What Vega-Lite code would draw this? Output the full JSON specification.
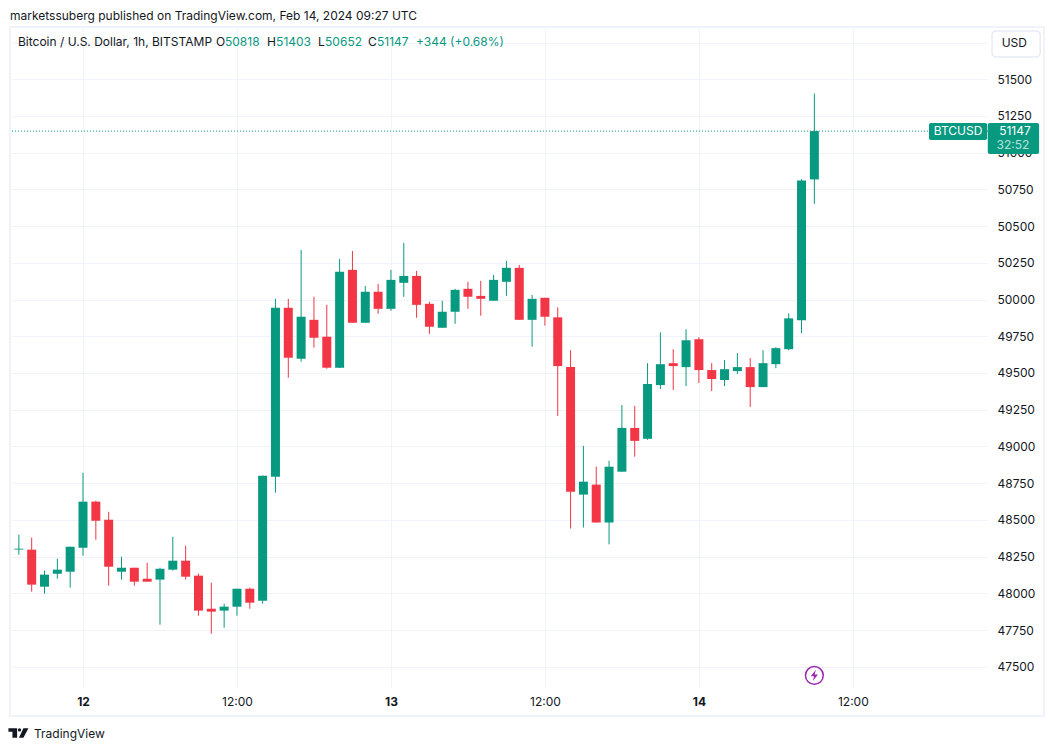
{
  "$schema": "https://vega.github.io/schema/vega-lite/v6.json",
  "width": 977,
  "height": 659,
  "autosize": "none",
  "padding": {"left": 11, "top": 28, "right": 66, "bottom": 64},
  "background": "#ffffff",
  "config": {
    "font": "Inter",
    "view": {"stroke": null},
    "axis": {"title": null, "domain": false, "ticks": false, "grid": true, "gridColor": "#f0f3fa", "gridWidth": 1, "labelColor": "#131722", "labelFontSize": 12, "labelOverlap": false}
  },
  "resolve": {"axis": {"x": "independent", "y": "independent"}},
  "datasets": {
    "candles": [
      {"time": "2024-02-11T19:00:00Z", "open": 48298, "high": 48399, "low": 48263, "close": 48304},
      {"time": "2024-02-11T20:00:00Z", "open": 48297, "high": 48379, "low": 48011, "close": 48059},
      {"time": "2024-02-11T21:00:00Z", "open": 48045, "high": 48154, "low": 47997, "close": 48127},
      {"time": "2024-02-11T22:00:00Z", "open": 48133, "high": 48236, "low": 48099, "close": 48161},
      {"time": "2024-02-11T23:00:00Z", "open": 48147, "high": 48317, "low": 48038, "close": 48317},
      {"time": "2024-02-12T00:00:00Z", "open": 48310, "high": 48821, "low": 48256, "close": 48624},
      {"time": "2024-02-12T01:00:00Z", "open": 48624, "high": 48630, "low": 48365, "close": 48494},
      {"time": "2024-02-12T02:00:00Z", "open": 48501, "high": 48555, "low": 48052, "close": 48181},
      {"time": "2024-02-12T03:00:00Z", "open": 48147, "high": 48249, "low": 48093, "close": 48174},
      {"time": "2024-02-12T04:00:00Z", "open": 48174, "high": 48174, "low": 48052, "close": 48079},
      {"time": "2024-02-12T05:00:00Z", "open": 48099, "high": 48208, "low": 48079, "close": 48079},
      {"time": "2024-02-12T06:00:00Z", "open": 48093, "high": 48174, "low": 47786, "close": 48167},
      {"time": "2024-02-12T07:00:00Z", "open": 48161, "high": 48385, "low": 48154, "close": 48222},
      {"time": "2024-02-12T08:00:00Z", "open": 48222, "high": 48324, "low": 48093, "close": 48113},
      {"time": "2024-02-12T09:00:00Z", "open": 48120, "high": 48133, "low": 47848, "close": 47882},
      {"time": "2024-02-12T10:00:00Z", "open": 47895, "high": 48072, "low": 47725, "close": 47875},
      {"time": "2024-02-12T11:00:00Z", "open": 47882, "high": 47929, "low": 47766, "close": 47909},
      {"time": "2024-02-12T12:00:00Z", "open": 47909, "high": 48031, "low": 47848, "close": 48031},
      {"time": "2024-02-12T13:00:00Z", "open": 48031, "high": 48038, "low": 47895, "close": 47936},
      {"time": "2024-02-12T14:00:00Z", "open": 47950, "high": 48801, "low": 47929, "close": 48801},
      {"time": "2024-02-12T15:00:00Z", "open": 48794, "high": 50005, "low": 48685, "close": 49944},
      {"time": "2024-02-12T16:00:00Z", "open": 49944, "high": 50005, "low": 49468, "close": 49604},
      {"time": "2024-02-12T17:00:00Z", "open": 49597, "high": 50338, "low": 49577, "close": 49883},
      {"time": "2024-02-12T18:00:00Z", "open": 49862, "high": 50019, "low": 49672, "close": 49740},
      {"time": "2024-02-12T19:00:00Z", "open": 49747, "high": 49964, "low": 49529, "close": 49536},
      {"time": "2024-02-12T20:00:00Z", "open": 49536, "high": 50277, "low": 49534, "close": 50189},
      {"time": "2024-02-12T21:00:00Z", "open": 50202, "high": 50331, "low": 49842, "close": 49842},
      {"time": "2024-02-12T22:00:00Z", "open": 49842, "high": 50093, "low": 49842, "close": 50053},
      {"time": "2024-02-12T23:00:00Z", "open": 50053, "high": 50107, "low": 49903, "close": 49937},
      {"time": "2024-02-13T00:00:00Z", "open": 49937, "high": 50202, "low": 49924, "close": 50134},
      {"time": "2024-02-13T01:00:00Z", "open": 50114, "high": 50386, "low": 50019, "close": 50161},
      {"time": "2024-02-13T02:00:00Z", "open": 50161, "high": 50195, "low": 49876, "close": 49964},
      {"time": "2024-02-13T03:00:00Z", "open": 49971, "high": 49985, "low": 49767, "close": 49815},
      {"time": "2024-02-13T04:00:00Z", "open": 49808, "high": 49992, "low": 49808, "close": 49917},
      {"time": "2024-02-13T05:00:00Z", "open": 49917, "high": 50073, "low": 49835, "close": 50066},
      {"time": "2024-02-13T06:00:00Z", "open": 50073, "high": 50121, "low": 49937, "close": 50019},
      {"time": "2024-02-13T07:00:00Z", "open": 50025, "high": 50127, "low": 49890, "close": 50005},
      {"time": "2024-02-13T08:00:00Z", "open": 49992, "high": 50168, "low": 49992, "close": 50134},
      {"time": "2024-02-13T09:00:00Z", "open": 50121, "high": 50263, "low": 50025, "close": 50216},
      {"time": "2024-02-13T10:00:00Z", "open": 50216, "high": 50236, "low": 49862, "close": 49862},
      {"time": "2024-02-13T11:00:00Z", "open": 49862, "high": 50032, "low": 49679, "close": 50005},
      {"time": "2024-02-13T12:00:00Z", "open": 50012, "high": 50012, "low": 49822, "close": 49883},
      {"time": "2024-02-13T13:00:00Z", "open": 49879, "high": 49947, "low": 49208, "close": 49547},
      {"time": "2024-02-13T14:00:00Z", "open": 49540, "high": 49655, "low": 48441, "close": 48692},
      {"time": "2024-02-13T15:00:00Z", "open": 48672, "high": 49004, "low": 48448, "close": 48760},
      {"time": "2024-02-13T16:00:00Z", "open": 48740, "high": 48862, "low": 48482, "close": 48482},
      {"time": "2024-02-13T17:00:00Z", "open": 48482, "high": 48902, "low": 48333, "close": 48862},
      {"time": "2024-02-13T18:00:00Z", "open": 48828, "high": 49282, "low": 48828, "close": 49126},
      {"time": "2024-02-13T19:00:00Z", "open": 49126, "high": 49276, "low": 48930, "close": 49038},
      {"time": "2024-02-13T20:00:00Z", "open": 49052, "high": 49567, "low": 49045, "close": 49425},
      {"time": "2024-02-13T21:00:00Z", "open": 49418, "high": 49777, "low": 49391, "close": 49560},
      {"time": "2024-02-13T22:00:00Z", "open": 49567, "high": 49662, "low": 49384, "close": 49547},
      {"time": "2024-02-13T23:00:00Z", "open": 49540, "high": 49798, "low": 49411, "close": 49723},
      {"time": "2024-02-14T00:00:00Z", "open": 49730, "high": 49744, "low": 49432, "close": 49520},
      {"time": "2024-02-14T01:00:00Z", "open": 49520, "high": 49567, "low": 49377, "close": 49459},
      {"time": "2024-02-14T02:00:00Z", "open": 49452, "high": 49588, "low": 49411, "close": 49526},
      {"time": "2024-02-14T03:00:00Z", "open": 49513, "high": 49635, "low": 49493, "close": 49540},
      {"time": "2024-02-14T04:00:00Z", "open": 49540, "high": 49601, "low": 49269, "close": 49404},
      {"time": "2024-02-14T05:00:00Z", "open": 49404, "high": 49655, "low": 49404, "close": 49567},
      {"time": "2024-02-14T06:00:00Z", "open": 49560, "high": 49676, "low": 49533, "close": 49669},
      {"time": "2024-02-14T07:00:00Z", "open": 49662, "high": 49906, "low": 49655, "close": 49872},
      {"time": "2024-02-14T08:00:00Z", "open": 49859, "high": 50820, "low": 49771, "close": 50810},
      {"time": "2024-02-14T09:00:00Z", "open": 50818, "high": 51403, "low": 50652, "close": 51147}
    ],
    "darkNotes": [
      {"time": "2024-02-11T18:18:36Z", "price": 51934, "label": "marketssuberg published on TradingView.com, Feb 14, 2024 09:27 UTC"},
      {"time": "2024-02-11T18:56:00Z", "price": 51751, "label": "Bitcoin / U.S. Dollar, 1h, BITSTAMP"},
      {"time": "2024-02-12T10:22:00Z", "price": 51751, "label": "O"},
      {"time": "2024-02-12T14:20:00Z", "price": 51751, "label": "H"},
      {"time": "2024-02-12T18:19:00Z", "price": 51751, "label": "L"},
      {"time": "2024-02-12T22:13:00Z", "price": 51751, "label": "C"},
      {"time": "2024-02-14T23:36:00Z", "price": 51745, "label": "USD"},
      {"time": "2024-02-11T20:11:00Z", "price": 47042, "label": "TradingView"}
    ],
    "greenNotes": [
      {"time": "2024-02-12T11:04:00Z", "price": 51751, "label": "50818"},
      {"time": "2024-02-12T15:03:00Z", "price": 51751, "label": "51403"},
      {"time": "2024-02-12T18:52:00Z", "price": 51751, "label": "50652"},
      {"time": "2024-02-12T22:55:00Z", "price": 51751, "label": "51147"},
      {"time": "2024-02-13T01:57:00Z", "price": 51751, "label": "+344 (+0.68%)"}
    ],
    "tagBoxes": [
      {"from": "2024-02-14T17:56:00Z", "to": "2024-02-14T22:28:00Z", "top": 51202, "bottom": 51087},
      {"from": "2024-02-14T22:31:00Z", "to": "2024-02-15T02:31:00Z", "top": 51202, "bottom": 50991}
    ],
    "tagNotes": [
      {"time": "2024-02-14T20:12:00Z", "price": 51148, "label": "BTCUSD"},
      {"time": "2024-02-15T00:38:00Z", "price": 51148, "label": "51147"},
      {"time": "2024-02-15T00:29:00Z", "price": 51053, "label": "32:52"}
    ]
  },
  "layer": [
    {
      "data": {"name": "candles"},
      "mark": {"type": "rule", "strokeWidth": 1},
      "encoding": {
        "x": {
          "field": "time",
          "type": "temporal",
          "scale": {"type": "utc", "domain": ["2024-02-11T18:23:17Z", "2024-02-14T22:32:00Z"], "nice": false, "padding": 0},
          "axis": {
            "values": ["2024-02-12T00:00:00Z", "2024-02-12T12:00:00Z", "2024-02-13T00:00:00Z", "2024-02-13T12:00:00Z", "2024-02-14T00:00:00Z", "2024-02-14T12:00:00Z"],
            "labelExpr": "utchours(datum.value) === 0 ? utcFormat(datum.value, '%-d') : '12:00'",
            "labelFontWeight": {"condition": {"test": "utchours(datum.value) === 0", "value": "bold"}, "value": "normal"},
            "labelPadding": 9
          }
        },
        "y": {
          "field": "low",
          "type": "quantitative",
          "scale": {"domain": [47362, 51849], "nice": false, "zero": false},
          "axis": {
            "orient": "right",
            "values": [47500, 47750, 48000, 48250, 48500, 48750, 49000, 49250, 49500, 49750, 50000, 50250, 50500, 50750, 51000, 51250, 51500, 51750],
            "labelExpr": "datum.value === 51750 ? '' : format(datum.value, 'd')",
            "labelPadding": 9
          }
        },
        "y2": {"field": "high"},
        "color": {"condition": {"test": "datum.close >= datum.open", "value": "#089981"}, "value": "#f23645"}
      }
    },
    {
      "data": {"name": "candles"},
      "mark": {"type": "bar", "size": 9},
      "encoding": {
        "x": {"field": "time", "type": "temporal", "axis": null},
        "y": {"field": "open", "type": "quantitative", "axis": null},
        "y2": {"field": "close"},
        "color": {"condition": {"test": "datum.close >= datum.open", "value": "#089981"}, "value": "#f23645"}
      }
    },
    {
      "data": {"values": [{"price": 51147}]},
      "mark": {"type": "rule", "color": "#089981", "strokeWidth": 1, "strokeDash": [1, 2]},
      "encoding": {"y": {"field": "price", "type": "quantitative", "axis": null}}
    },
    {
      "data": {"values": [{"from": "2024-02-11T18:18:36Z", "to": "2024-02-15T02:54:00Z", "top": 51856, "bottom": 47164}]},
      "mark": {"type": "rect", "fill": null, "stroke": "#f0f3fa", "strokeWidth": 2, "clip": false},
      "encoding": {
        "x": {"field": "from", "type": "temporal", "axis": null},
        "x2": {"field": "to"},
        "y": {"field": "top", "type": "quantitative", "axis": null},
        "y2": {"field": "bottom"}
      }
    },
    {
      "data": {"values": [{"from": "2024-02-14T22:51:00Z", "to": "2024-02-15T02:36:00Z", "top": 51829, "bottom": 51652}]},
      "mark": {"type": "rect", "fill": "#ffffff", "stroke": "#e9ecf5", "strokeWidth": 1.5, "cornerRadius": 4},
      "encoding": {
        "x": {"field": "from", "type": "temporal", "axis": null},
        "x2": {"field": "to"},
        "y": {"field": "top", "type": "quantitative", "axis": null},
        "y2": {"field": "bottom"}
      }
    },
    {
      "data": {"name": "tagBoxes"},
      "mark": {"type": "rect", "fill": "#089981", "cornerRadius": 2},
      "encoding": {
        "x": {"field": "from", "type": "temporal", "axis": null},
        "x2": {"field": "to"},
        "y": {"field": "top", "type": "quantitative", "axis": null},
        "y2": {"field": "bottom"}
      }
    },
    {
      "data": {"name": "tagNotes"},
      "mark": {"type": "text", "fontSize": 12, "align": "center", "baseline": "middle", "fill": "#ffffff"},
      "encoding": {
        "x": {"field": "time", "type": "temporal", "axis": null},
        "y": {"field": "price", "type": "quantitative", "axis": null},
        "text": {"field": "label"},
        "opacity": {"condition": {"test": "datum.label === '32:52'", "value": 0.7}, "value": 1}
      }
    },
    {
      "data": {"name": "darkNotes"},
      "mark": {"type": "text", "fontSize": 12, "align": "left", "baseline": "middle", "fill": "#131722"},
      "encoding": {
        "x": {"field": "time", "type": "temporal", "axis": null},
        "y": {"field": "price", "type": "quantitative", "axis": null},
        "text": {"field": "label"}
      }
    },
    {
      "data": {"name": "greenNotes"},
      "mark": {"type": "text", "fontSize": 12, "align": "left", "baseline": "middle", "fill": "#089981"},
      "encoding": {
        "x": {"field": "time", "type": "temporal", "axis": null},
        "y": {"field": "price", "type": "quantitative", "axis": null},
        "text": {"field": "label"}
      }
    },
    {
      "data": {"values": [{"time": "2024-02-11T18:58:00Z", "price": 47049}]},
      "mark": {
        "type": "point",
        "shape": "M-1 -0.47H-0.13V0.47H-0.6V-0.13H-1ZM-0.05 -0.3A0.16 0.16 0 1 0 0.27 -0.3A0.16 0.16 0 1 0 -0.05 -0.3ZM0.5 -0.47H1L0.5 0.47H0.05Z",
        "size": 400,
        "filled": true,
        "fill": "#131722",
        "opacity": 1,
        "strokeWidth": 0
      },
      "encoding": {
        "x": {"field": "time", "type": "temporal", "axis": null},
        "y": {"field": "price", "type": "quantitative", "axis": null}
      }
    },
    {
      "data": {"values": [{"time": "2024-02-14T09:00:00Z", "price": 47441}]},
      "mark": {"type": "point", "shape": "circle", "size": 314, "filled": false, "stroke": "#9c27b0", "strokeWidth": 1.5, "opacity": 1},
      "encoding": {
        "x": {"field": "time", "type": "temporal", "axis": null},
        "y": {"field": "price", "type": "quantitative", "axis": null}
      }
    },
    {
      "data": {"values": [{"time": "2024-02-14T09:00:00Z", "price": 47441}]},
      "mark": {
        "type": "point",
        "shape": "M0.25 -0.95L-0.6 0.15H-0.05L-0.25 0.95L0.6 -0.15H0.05Z",
        "size": 144,
        "filled": true,
        "fill": "#9c27b0",
        "opacity": 1,
        "strokeWidth": 0
      },
      "encoding": {
        "x": {"field": "time", "type": "temporal", "axis": null},
        "y": {"field": "price", "type": "quantitative", "axis": null}
      }
    }
  ]
}
